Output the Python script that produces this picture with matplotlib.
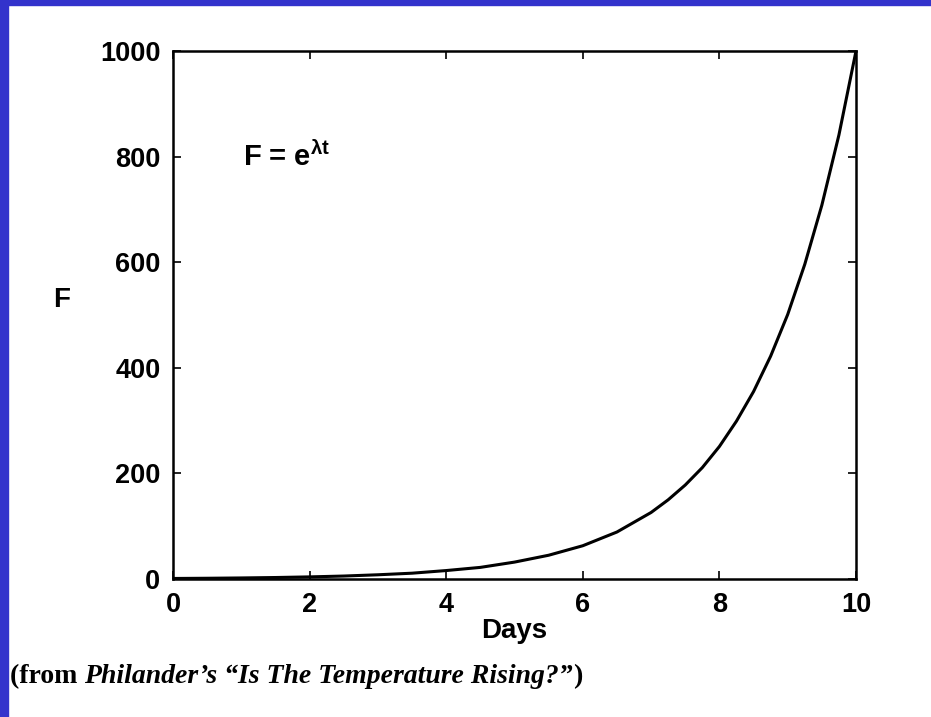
import matplotlib
matplotlib.use("Agg")
import matplotlib.pyplot as plt
from matplotlib.patches import Rectangle

# Values
days = [0, 0.5, 1, 1.5, 2, 2.5, 3, 3.5, 4, 4.5, 5, 5.5, 6, 6.5, 7, 7.25, 7.5, 7.75,
        8, 8.25, 8.5, 8.75, 9, 9.25, 9.5, 9.75, 10]
F = [1, 1.4, 2, 2.8, 4, 5.6, 8, 11, 16, 22, 32, 45, 63, 89, 126, 150, 178, 211,
     251, 299, 355, 422, 501, 596, 708, 841, 1000]
xticks = [0, 2, 4, 6, 8, 10]
yticks = [0, 200, 400, 600, 800, 1000]

plt.rcParams['font.family'] = ['Liberation Sans', 'DejaVu Sans']
plt.rcParams['mathtext.default'] = 'regular'

fig = plt.figure(figsize=(9.31, 7.17), dpi=100)
fig.patch.set_facecolor('white')
blue = '#3333CC'
fig.patches.append(Rectangle((0, 0), 8/931, 1, transform=fig.transFigure, color=blue, zorder=0))
fig.patches.append(Rectangle((0, 1 - 5/717), 1, 5/717, transform=fig.transFigure, color=blue, zorder=0))

ax = fig.add_axes([173/931, 1 - 579/717, (856 - 173)/931, (579 - 51)/717])
ax.plot(days, F, color='black', lw=2.2)
ax.set_xlim(0, 10)
ax.set_ylim(0, 1000)
ax.set_xticks(xticks)
ax.set_yticks(yticks)
ax.tick_params(direction='in', top=True, right=True, length=6, width=1.2, labelsize=19.5)
ax.tick_params(axis='x', pad=9)
ax.tick_params(axis='y', pad=9)
for lab in ax.get_xticklabels() + ax.get_yticklabels():
    lab.set_fontweight('bold')
for s in ax.spines.values():
    s.set_linewidth(1.8)
ax.set_xlabel('Days', fontsize=20, fontweight='bold', labelpad=0)
ax.set_ylabel('F', fontsize=20, fontweight='bold', rotation=0, va='center', ha='center')
ax.yaxis.set_label_coords(-0.1625, 0.528)
ax.text(1.02, 800, r'F = e$^{\lambda t}$', fontsize=21, fontweight='bold', ha='left', va='center')

cap_y = 1 - 683/717
cap_size = 20
first = fig.text(10/931, cap_y, '(from ', fontsize=cap_size, fontweight='bold',
                 family='Liberation Serif', va='baseline', ha='left')
fig.canvas.draw()
r = fig.canvas.get_renderer()
bb = first.get_window_extent(r)
t2 = fig.text(bb.x1 / fig.bbox.width, cap_y, 'Philander\u2019s \u201cIs The Temperature Rising?\u201d',
              fontsize=cap_size, fontweight='bold', fontstyle='italic', family='Liberation Serif',
              va='baseline', ha='left')
bb2 = t2.get_window_extent(r)
fig.text(bb2.x1 / fig.bbox.width, cap_y, ')', fontsize=cap_size, fontweight='bold',
         family='Liberation Serif', va='baseline', ha='left')

fig.savefig('out.png', dpi=100)
